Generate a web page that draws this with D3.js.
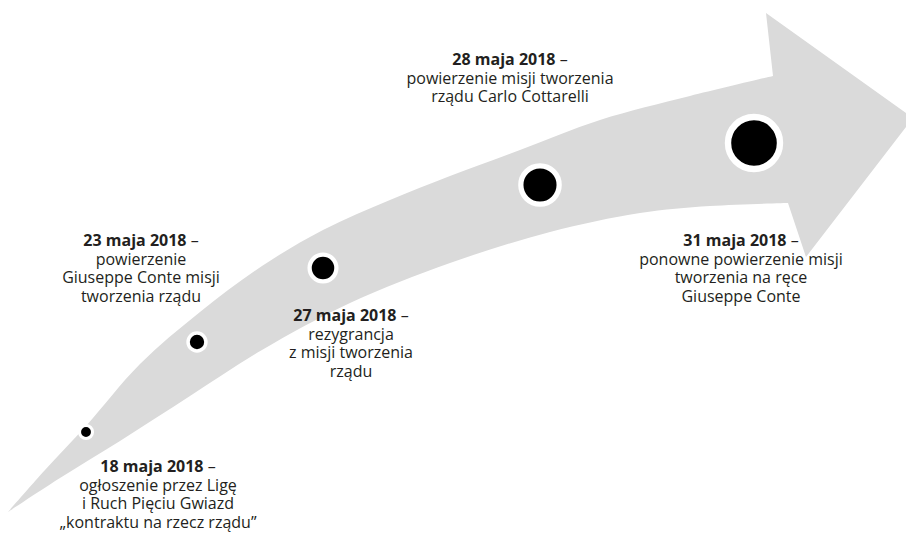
<!DOCTYPE html>
<html>
<head>
<meta charset="utf-8">
<script src="https://cdn.jsdelivr.net/npm/d3@7"></script>
<style>
  body { margin: 0; background: #fff; }
  svg { display: block; }
  .label { font-family: "Open Sans", sans-serif; font-size: 16px; fill: #231f20; }
</style>
</head>
<body>
<svg id="viz" width="906" height="535"></svg>
<script>
// events on the timeline (May 2018)
var dates = ["18 maja 2018", "23 maja 2018", "27 maja 2018", "28 maja 2018", "31 maja 2018"];
var descriptions = [
    ["ogłoszenie przez Ligę", "i Ruch Pięciu Gwiazd", "„kontraktu na rzecz rządu”"],
    ["powierzenie", "Giuseppe Conte misji", "tworzenia rządu"],
    ["rezygrancja", "z misji tworzenia", "rządu"],
    ["powierzenie misji tworzenia", "rządu Carlo Cottarelli"],
    ["ponowne powierzenie misji", "tworzenia na ręce", "Giuseppe Conte"]
];

// layout (in a 906 x 535 grid)
var upperEdge = [[8, 512], [45, 470], [86, 426], [140, 364], [200, 312], [262, 266], [323, 230], [390, 200], [450, 176], [520, 150], [600, 120], [690, 96], [773, 76]];
var lowerEdge = [[788, 203], [710, 206], [640, 213], [550, 232], [450, 263], [350, 303], [262, 350], [190, 396], [120, 441], [60, 478], [8, 512]];
var head = [[773, 76], [766, 13], [913, 118], [806, 257], [788, 203]];
var markerAt = [[86, 432], [197, 342], [323, 268], [540, 185], [754, 143]];
var labelAt = [[158, 472], [141, 246], [351, 321], [510, 65], [741, 246]];

window.addEventListener("load", run);

function run() {
    var svg = d3.select("#viz");
    var width = +svg.attr("width");
    var height = +svg.attr("height");

    var x = d3.scaleLinear().domain([0, 906]).range([0, width]);
    var y = d3.scaleLinear().domain([0, 535]).range([0, height]);

    // arrow body: two curved edges, joined by the arrow head
    var edge = d3.line()
        .x(function (d) { return x(d[0]); })
        .y(function (d) { return y(d[1]); })
        .curve(d3.curveCatmullRom.alpha(0.5));
    var straight = d3.line()
        .x(function (d) { return x(d[0]); })
        .y(function (d) { return y(d[1]); });

    var path = edge(upperEdge) + straight(head).replace("M", "L") + edge(lowerEdge).replace("M", "L") + "Z";
    svg.append("path")
        .attr("d", path)
        .style("fill", "#dadada");

    // circles grow with each event
    var r = d3.scalePow().exponent(1.5).domain([0, dates.length - 1]).range([6.5, 26]);

    dates.forEach(function (d, i) {
        svg.append("circle")
            .attr("cx", x(markerAt[i][0]))
            .attr("cy", y(markerAt[i][1]))
            .attr("r", r(i))
            .style("fill", "#000")
            .style("stroke", "#fff")
            .style("stroke-width", 2 + r(i) * 0.17);
    });

    var lineHeight = 18.6;
    dates.forEach(function (d, i) {
        var t = svg.append("text")
            .attr("class", "label")
            .attr("x", x(labelAt[i][0]))
            .attr("y", y(labelAt[i][1]))
            .style("text-anchor", "middle");
        var first = t.append("tspan");
        first.append("tspan").style("font-weight", "bold").text(d);
        first.append("tspan").text(" –");
        descriptions[i].forEach(function (line, j) {
            t.append("tspan")
                .attr("x", x(labelAt[i][0]))
                .attr("dy", lineHeight)
                .text(line);
        });
    });
}
</script>
</body>
</html>
